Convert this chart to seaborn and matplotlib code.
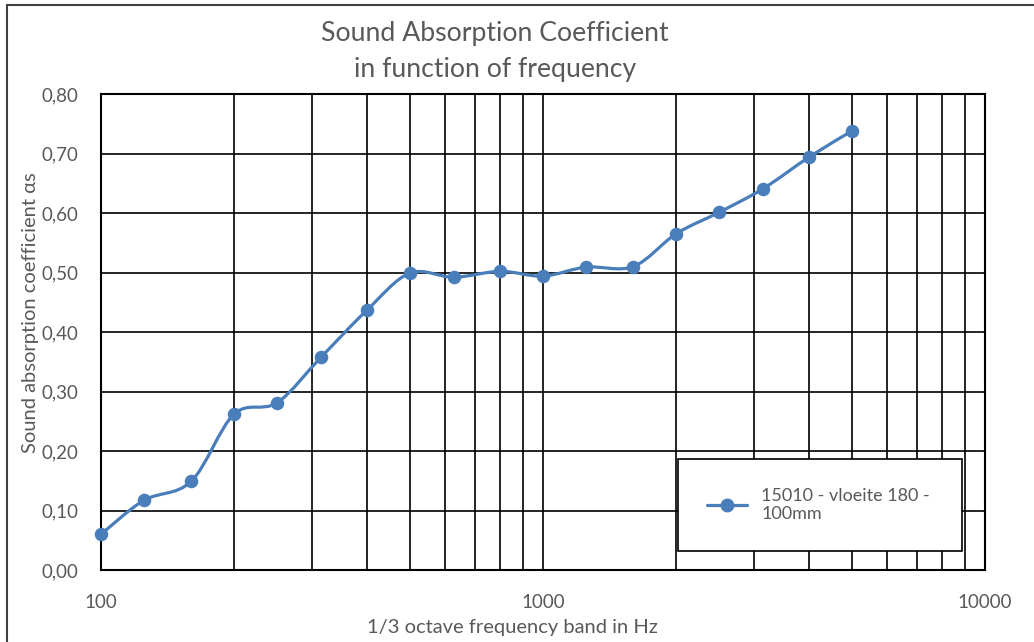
import numpy as np
import pandas as pd
import matplotlib
matplotlib.use("Agg")
import matplotlib.pyplot as plt
import seaborn as sns
from matplotlib.path import Path
from matplotlib.patches import PathPatch
from matplotlib.lines import Line2D
from matplotlib.ticker import FixedLocator, LogLocator, NullFormatter

# ---- data ----
frequencies = [100, 125, 160, 200, 250, 315, 400, 500, 630, 800, 1000,
               1250, 1600, 2000, 2500, 3150, 4000, 5000]
alpha_s = [0.060, 0.117, 0.149, 0.262, 0.281, 0.358, 0.437, 0.499, 0.492,
           0.502, 0.494, 0.509, 0.510, 0.565, 0.601, 0.641, 0.694, 0.738]
series_name = "15010 - vloeite 180 -\n100mm"
y_ticks = [0.0, 0.1, 0.2, 0.3, 0.4, 0.5, 0.6, 0.7, 0.8]
x_ticks = [100, 1000, 10000]
title = "Sound Absorption Coefficient\nin function of frequency"
x_label = "1/3 octave frequency band in Hz"
y_label = "Sound absorption coefficient \u03b1s"

df = pd.DataFrame({"freq": frequencies, "alpha": alpha_s})

sns.set_theme(style="white")
plt.rcParams['font.family'] = ['Lato', 'DejaVu Sans']

BLUE = "#4A7EBB"
GRAY = "#595959"

fig = plt.figure(figsize=(10.34, 6.42), dpi=100)
ax = fig.add_axes([101 / 1034, 1 - 570 / 642, (985 - 101) / 1034, (570 - 94) / 642])

ax.set_xscale("log")
ax.set_xlim(100, 10000)
ax.set_ylim(0, 0.8)

# grid
ax.xaxis.set_major_locator(FixedLocator(x_ticks))
ax.xaxis.set_minor_locator(LogLocator(base=10, subs=np.arange(2, 10)))
ax.xaxis.set_minor_formatter(NullFormatter())
ax.set_xticks(x_ticks)
ax.set_xticklabels([str(t) for t in x_ticks])
ax.set_yticks(y_ticks)
ax.set_yticklabels([f"{t:.2f}".replace(".", ",") for t in y_ticks])
ax.grid(True, which="both", axis="x", color="black", linewidth=1.2)
ax.grid(True, which="major", axis="y", color="black", linewidth=1.2)
ax.set_axisbelow(True)
for s in ax.spines.values():
    s.set_color("black")
    s.set_linewidth(1.5)
ax.tick_params(axis="both", which="both", length=0, colors=GRAY, labelsize=13.5)
ax.tick_params(axis="x", pad=17)
ax.tick_params(axis="y", pad=16)

# smooth curve (Catmull-Rom -> cubic Bezier, in log-x space)
lx = np.log10(np.array(frequencies, dtype=float))
yy = np.array(alpha_s, dtype=float)
pts = np.column_stack([lx, yy])
n = len(pts)
verts = [pts[0]]
codes = [Path.MOVETO]
for i in range(n - 1):
    p0 = pts[i - 1] if i > 0 else pts[i]
    p1 = pts[i]
    p2 = pts[i + 1]
    p3 = pts[i + 2] if i + 2 < n else pts[i + 1]
    c1 = p1 + (p2 - p0) / 6.0
    c2 = p2 - (p3 - p1) / 6.0
    verts += [c1, c2, p2]
    codes += [Path.CURVE4] * 3
verts = np.array(verts)
verts[:, 0] = 10 ** verts[:, 0]
ax.add_patch(PathPatch(Path(verts, codes), facecolor="none", edgecolor=BLUE,
                       linewidth=2.3, zorder=3, capstyle="round", joinstyle="round"))

sns.scatterplot(data=df, x="freq", y="alpha", ax=ax, color=BLUE, s=95,
                edgecolor=BLUE, linewidth=0, zorder=4, legend=False, clip_on=False)

ax.set_xlabel("")
ax.set_ylabel("")

# legend
handle = Line2D([], [], color=BLUE, linewidth=2.3, marker="o", markersize=9)
leg = ax.legend([handle], [series_name], loc="lower left",
                bbox_to_anchor=((678 - 101) / 884, (570 - 551) / 476,
                                (962 - 678) / 884, (551 - 450) / 476),
                mode="expand", frameon=True, fancybox=False, fontsize=13,
                handlelength=2.2, borderpad=1.6, labelcolor=GRAY,
                borderaxespad=0)
leg.get_frame().set_edgecolor("black")
leg.get_frame().set_linewidth(1.2)
leg.get_frame().set_facecolor("white")
leg.get_frame().set_alpha(1)

# titles / labels
fig.text(495 / 1034, 1 - 51 / 642, title, ha="center", va="center",
         fontsize=19.2, color=GRAY, linespacing=1.55)
fig.text(512 / 1034, 1 - 628 / 642, x_label, ha="center", va="center",
         fontsize=14.5, color=GRAY)
fig.text(31 / 1034, 1 - 313 / 642, y_label, ha="center", va="center",
         rotation=90, fontsize=14.5, color=GRAY)

# chart border (top & left visible)
fig.add_artist(Line2D([7 / 1034, 7 / 1034], [0, 1 - 5 / 642],
                      transform=fig.transFigure, color="#404040", linewidth=1.5))
fig.add_artist(Line2D([7 / 1034, 1], [1 - 5 / 642, 1 - 5 / 642],
                      transform=fig.transFigure, color="#404040", linewidth=1.5))

fig.savefig("out.png", dpi=100, facecolor="white")
